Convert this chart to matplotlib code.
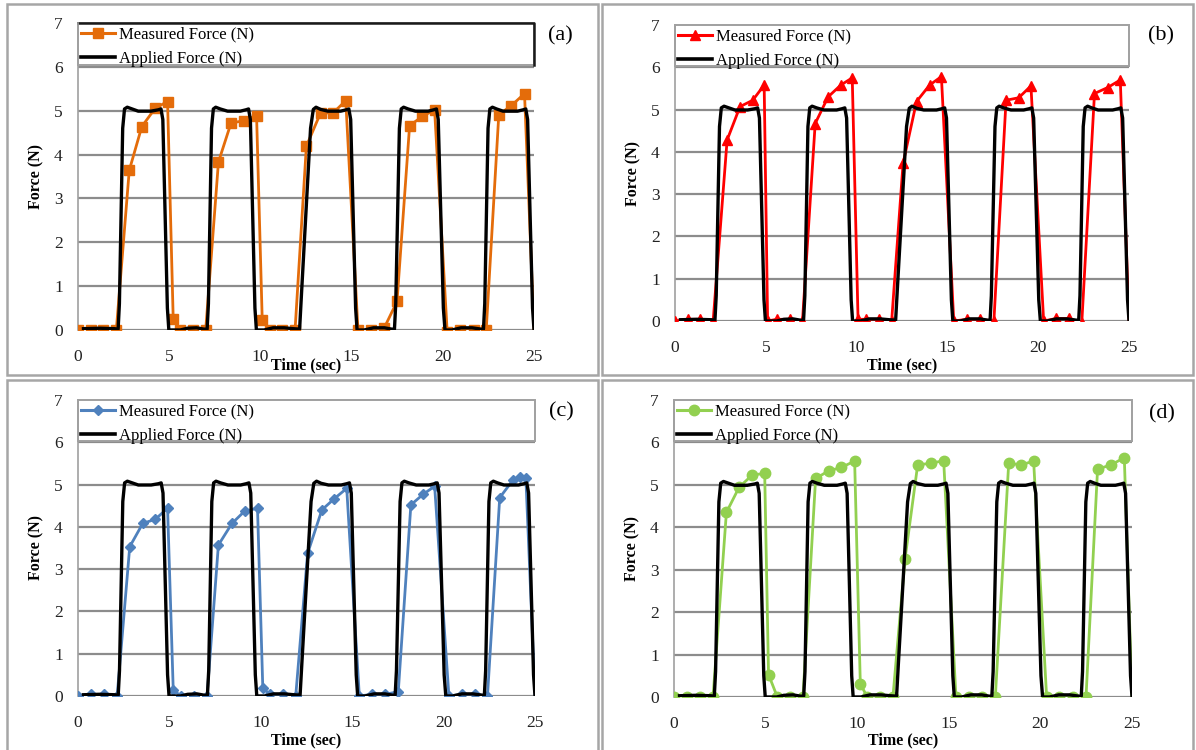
import matplotlib
matplotlib.use("Agg")
import matplotlib.pyplot as plt
from matplotlib.patches import Rectangle
from matplotlib.lines import Line2D

plt.rcParams['font.family'] = ['Liberation Serif', 'DejaVu Serif']

# ---------------- data ----------------
APPLIED_T = [0.3, 1.2, 2.0,
             2.2, 2.27, 2.45, 2.55, 2.7, 2.9, 3.3, 4.0, 4.4, 4.55, 4.65, 4.9, 4.98, 5.3, 5.6, 6.0, 6.5, 6.9,
             7.08, 7.15, 7.32, 7.42, 7.55, 7.8, 8.2, 8.9, 9.2, 9.35, 9.45, 9.7, 9.78, 10.2, 10.7, 11.3, 11.8,
             12.15, 12.25, 12.75, 12.9, 13.05, 13.3, 13.7, 14.4, 14.7, 14.85, 14.95, 15.22, 15.3, 15.7, 16.2, 16.8, 17.2,
             17.35, 17.42, 17.62, 17.72, 17.85, 18.1, 18.5, 19.2, 19.5, 19.65, 19.75, 20.03, 20.12, 20.5, 21.0, 21.6, 22.1,
             22.23, 22.3, 22.48, 22.58, 22.72, 22.95, 23.3, 24.1, 24.4, 24.55, 24.65, 24.92, 25.0]
APPLIED_F = [0.03, 0.04, 0.03,
             0.02, 0.6, 4.6, 5.04, 5.08, 5.05, 4.99, 4.99, 5.02, 5.04, 4.8, 0.5, 0.0, 0.0, 0.0, 0.04, 0.05, 0.02,
             0.02, 0.6, 4.6, 5.04, 5.08, 5.04, 4.99, 4.99, 5.02, 5.04, 4.8, 0.5, 0.0, 0.0, 0.05, 0.05, 0.03,
             0.02, 0.8, 4.6, 5.03, 5.08, 5.03, 4.99, 4.99, 5.02, 5.04, 4.8, 0.5, 0.0, 0.0, 0.05, 0.05, 0.02,
             0.02, 0.6, 4.6, 5.04, 5.08, 5.04, 4.99, 4.99, 5.02, 5.04, 4.8, 0.5, 0.0, 0.0, 0.05, 0.05, 0.02,
             0.02, 0.6, 4.6, 5.04, 5.08, 5.04, 4.99, 4.99, 5.02, 5.04, 4.8, 0.5, 0.0]

MEAS_A_T = [0.0, 0.69, 1.36, 2.10, 2.81, 3.50, 4.24, 4.91, 5.22, 5.6, 6.29, 7.0,
            7.70, 8.39, 9.08, 9.79, 10.1, 10.5, 11.2, 11.9,
            12.52, 13.3, 13.99, 14.68, 15.35, 16.05, 16.78, 17.49,
            18.18, 18.88, 19.55, 20.24, 20.97, 21.69, 22.38,
            23.07, 23.74, 24.48, 25.0]
MEAS_A_F = [0.0, 0.0, 0.0, 0.0, 3.64, 4.64, 5.06, 5.21, 0.25, 0.0, 0.0, 0.0,
            3.83, 4.72, 4.77, 4.89, 0.23, 0.0, 0.0, 0.0,
            4.19, 4.95, 4.95, 5.23, 0.0, 0.0, 0.04, 0.65,
            4.66, 4.87, 5.02, -0.04, 0.0, 0.0, 0.0,
            4.91, 5.11, 5.39, 0.0]

MEAS_B_T = [0.0, 0.7, 1.39, 2.1, 2.87, 3.58, 4.28, 4.91, 5.1, 5.6, 6.32, 7.02,
            7.72, 8.43, 9.13, 9.76, 10.08, 10.54, 11.24, 11.93,
            12.56, 13.3, 14.02, 14.67, 15.35, 16.08, 16.82, 17.56,
            18.23, 18.93, 19.6, 20.3, 21.0, 21.67, 22.4,
            23.1, 23.82, 24.52, 25.0]
MEAS_B_F = [0.0, 0.04, 0.04, 0.0, 4.28, 5.07, 5.22, 5.58, 0.0, 0.04, 0.04, 0.0,
            4.67, 5.3, 5.58, 5.75, 0.04, 0.04, 0.04, 0.0,
            3.73, 5.19, 5.58, 5.78, 0.0, 0.04, 0.04, 0.0,
            5.22, 5.28, 5.56, 0.0, 0.06, 0.06, -0.04,
            5.38, 5.52, 5.7, 0.0]

MEAS_C_T = [0.0, 0.71, 1.4, 2.14, 2.83, 3.54, 4.23, 4.9, 5.21, 5.63, 6.32, 7.06,
            7.68, 8.42, 9.11, 9.82, 10.11, 10.51, 11.2, 11.91,
            12.56, 13.34, 14.03, 14.7, 15.39, 16.1, 16.79, 17.52,
            18.21, 18.88, 19.51, 20.29, 20.98, 21.71, 22.4,
            23.07, 23.8, 24.2, 24.5, 25.0]
MEAS_C_F = [0.0, 0.04, 0.04, 0.0, 3.53, 4.08, 4.18, 4.44, 0.14, 0.0, 0.0, 0.0,
            3.57, 4.08, 4.37, 4.44, 0.18, 0.04, 0.04, 0.0,
            3.37, 4.4, 4.67, 4.91, 0.0, 0.04, 0.04, 0.1,
            4.52, 4.77, 4.96, 0.0, 0.04, 0.04, 0.0,
            4.69, 5.11, 5.17, 5.15, 0.0]

MEAS_D_T = [0.0, 0.73, 1.44, 2.13, 2.86, 3.55, 4.26, 4.95, 5.16, 5.64, 6.35, 7.04,
            7.73, 8.44, 9.13, 9.86, 10.17, 10.55, 11.26, 11.95,
            12.61, 13.3, 14.04, 14.72, 15.39, 16.12, 16.81, 17.54,
            18.27, 18.94, 19.63, 20.34, 21.03, 21.76, 22.49,
            23.12, 23.85, 24.58, 25.0]
MEAS_D_F = [0.0, 0.0, 0.0, 0.0, 4.35, 4.94, 5.23, 5.27, 0.53, 0.0, 0.0, 0.0,
            5.15, 5.33, 5.41, 5.56, 0.31, 0.0, 0.0, 0.0,
            3.25, 5.47, 5.51, 5.57, 0.0, 0.0, 0.0, 0.0,
            5.51, 5.47, 5.56, 0.0, 0.0, 0.0, 0.0,
            5.37, 5.47, 5.64, 0.0]

PANEL_LABELS = ['(a)', '(b)', '(c)', '(d)']
MEAS_LABEL = 'Measured Force (N)'
APPLIED_LABEL = 'Applied Force (N)'
X_TICKS = [0, 5, 10, 15, 20, 25]
Y_TICKS = [0, 1, 2, 3, 4, 5, 6, 7]

W, H = 1196, 750
fig = plt.figure(figsize=(W / 100, H / 100), dpi=100)


def fx(px):
    return px / W


def fy(py):
    return 1 - py / H


# panel borders (pixel boxes: left, top, right, bottom)
borders = [(7, 4, 598, 375), (602, 4, 1193, 375), (7, 380, 598, 765), (602, 380, 1193, 765)]
for (l, t, r, b) in borders:
    fig.patches.append(Rectangle((fx(l), fy(b)), fx(r - l), fy(t) - fy(b),
                                 transform=fig.transFigure, fill=False,
                                 edgecolor='#a6a6a6', lw=1.8, zorder=0))

# axes boxes (left, top, right, bottom) in px
axes_px = [(78, 23, 534, 330), (675, 25, 1129, 321), (78, 400, 535, 696), (674, 400, 1132, 697)]
panels = [
    (MEAS_A_T, MEAS_A_F, '#E46C0A', 's', 6.5),
    (MEAS_B_T, MEAS_B_F, '#FF0000', '^', 7.5),
    (MEAS_C_T, MEAS_C_F, '#4F81BD', 'D', 5.5),
    (MEAS_D_T, MEAS_D_F, '#92D050', 'o', 7.5),
]
label_pos = [(560, 36), (1161, 36), (561, 412), (1162, 414)]
xlabel_py = [365, 365, 740, 740]

for i, ((l, t, r, b), (mt, mf, col, mk, ms)) in enumerate(zip(axes_px, panels)):
    ax = fig.add_axes([fx(l), fy(b), fx(r - l), fy(t) - fy(b)])
    ax.set_xlim(0, 25)
    ax.set_ylim(0, 7)
    ax.set_xticks(X_TICKS)
    ax.set_yticks(Y_TICKS)
    ax.tick_params(length=0, labelsize=12.5, labelcolor='#222222')
    ax.tick_params(axis='x', pad=14)
    ax.tick_params(axis='y', pad=11)
    for yv in Y_TICKS[:-1]:
        ax.axhline(yv, color='#8c8c8c', lw=1.6, zorder=1)
    for s in ['top', 'right', 'bottom']:
        ax.spines[s].set_visible(False)
    ax.spines['left'].set_color('#a0a0a0')
    ax.spines['left'].set_linewidth(1.2)
    # legend box
    ax.add_patch(Rectangle((0, 6.04), 25, 0.96, fill=True, facecolor='white',
                           edgecolor='#a0a0a0', lw=1.4, zorder=2, clip_on=False))
    if i == 0:
        ax.plot([0, 25, 25], [7, 7, 6.04], color='#1a1a1a', lw=1.8, zorder=2.5,
                clip_on=False, solid_capstyle='projecting')

    ax.plot(APPLIED_T, APPLIED_F, color='black', lw=2.4, zorder=4, solid_joinstyle='round')
    ax.plot(mt, mf, color=col, lw=2.0, marker=mk, ms=ms, markevery=slice(0, len(mt) - 1),
            zorder=3, solid_joinstyle='round')

    h1 = Line2D([], [], color=col, lw=2.2, marker=mk, ms=ms)
    h2 = Line2D([], [], color='black', lw=2.6)
    leg = ax.legend([h1, h2], [MEAS_LABEL, APPLIED_LABEL], loc='upper left',
                    bbox_to_anchor=(0.0, 1.0), borderaxespad=0.05, borderpad=0.15,
                    labelspacing=0.5, frameon=False, handlelength=2.0,
                    handletextpad=0.25, fontsize=12)
    leg.set_zorder(5)

    ax.set_ylabel('Force (N)', fontsize=11.5, fontweight='bold')
    ax.yaxis.label.set_va('center')
    ax.yaxis.set_label_coords(-42 / (r - l), 0.5)
    ax.set_xlabel('Time (sec)', fontsize=11.5, fontweight='bold')
    ax.xaxis.label.set_va('center')
    ax.xaxis.set_label_coords(0.5, (b - xlabel_py[i]) / (b - t))

    px, py = label_pos[i]
    fig.text(fx(px), fy(py), PANEL_LABELS[i], fontsize=16, ha='center', va='center')

fig.savefig('out.png', dpi=100)
